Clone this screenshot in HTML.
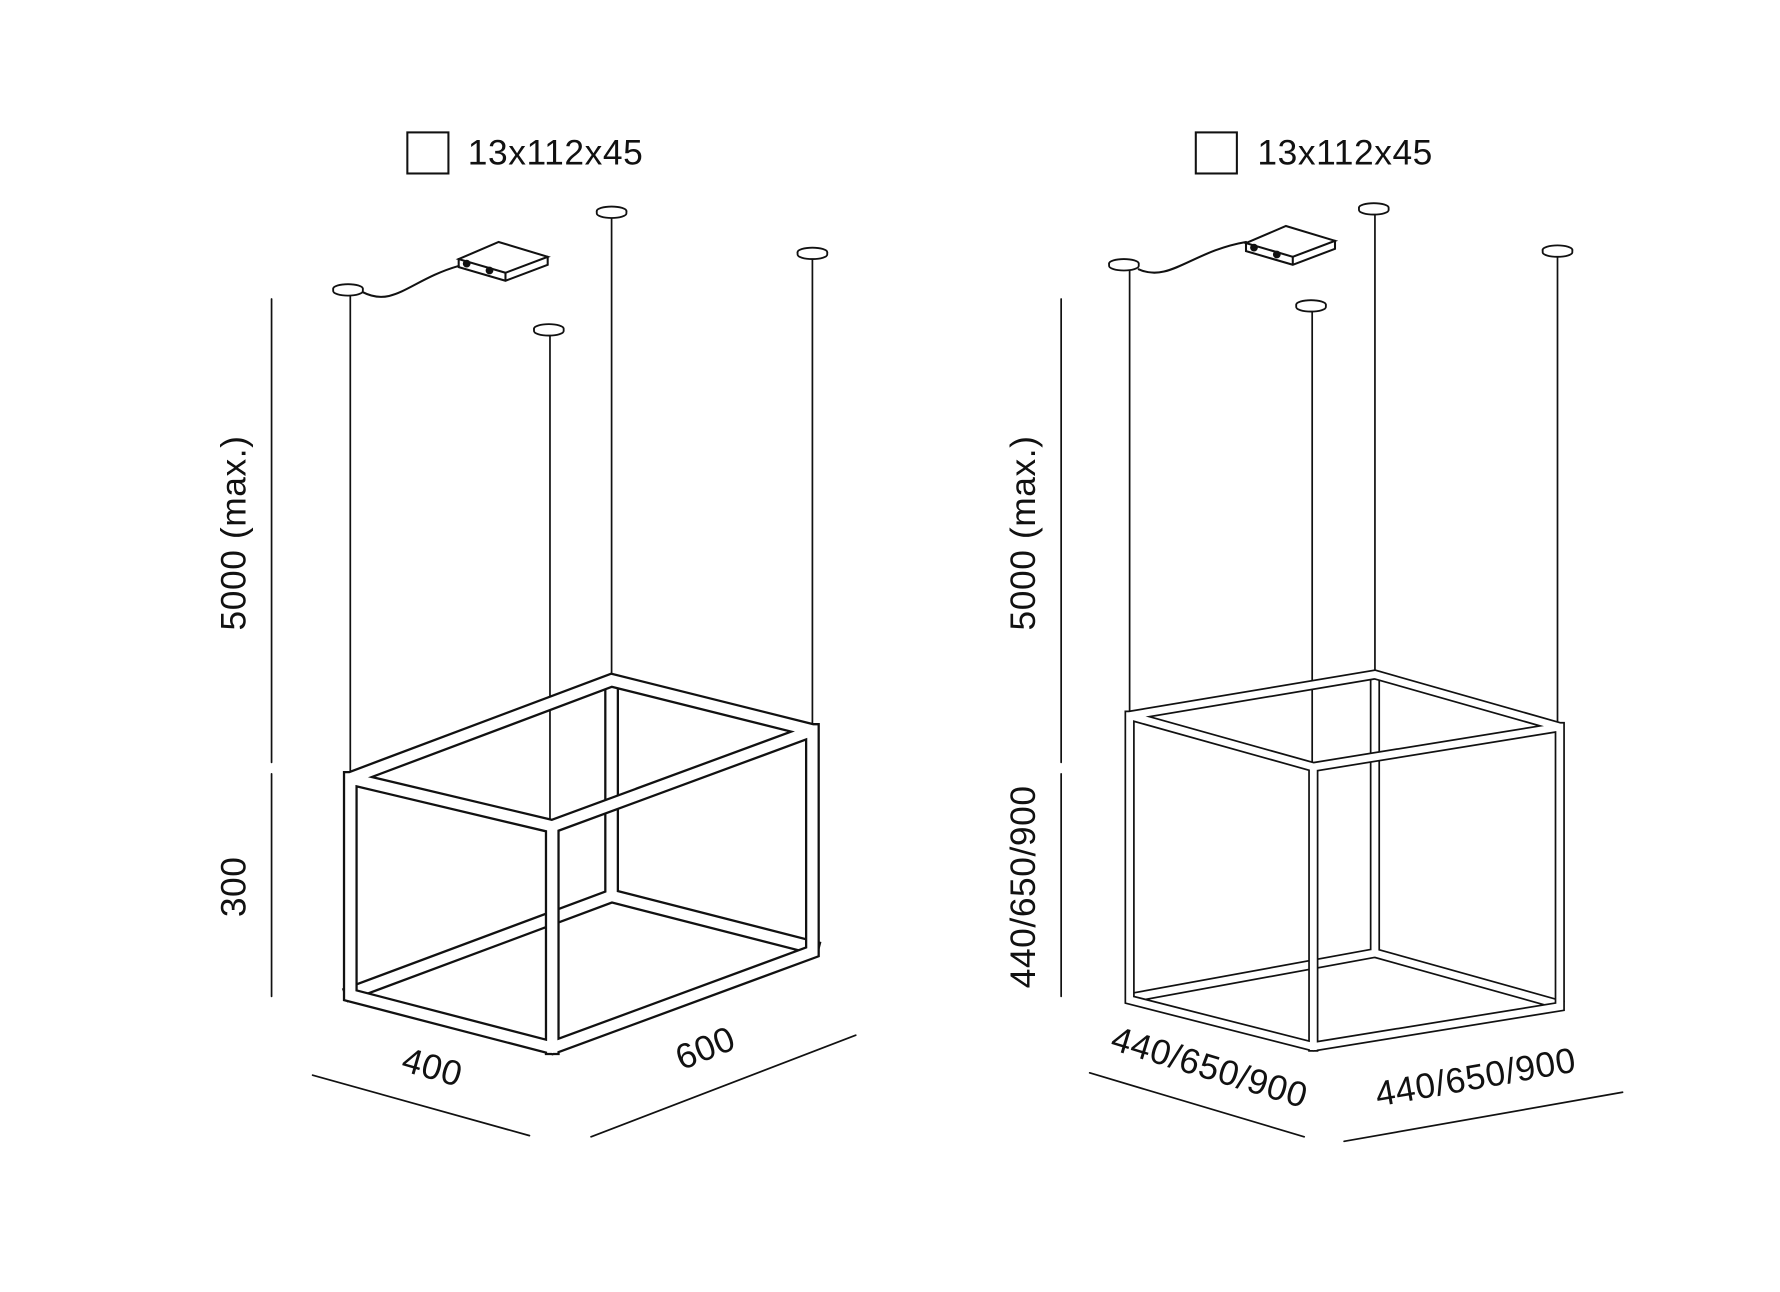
<!DOCTYPE html>
<html><head><meta charset="utf-8"><style>
html,body{margin:0;padding:0;background:#fff;}
svg{display:block;}
text{font-family:"Liberation Sans",sans-serif;fill:#111;letter-spacing:0.5px;}
</style></head><body>
<svg width="1780" height="1292" viewBox="0 0 1560 1132" preserveAspectRatio="none" xmlns="http://www.w3.org/2000/svg">
<g fill="none" stroke="#111" stroke-linecap="round">
<rect x="357" y="116" width="36" height="36" stroke-width="1.8"/>
<rect x="1048" y="116" width="36" height="36" stroke-width="1.8"/>

<g stroke-width="1.5">
<line x1="238" y1="262" x2="238" y2="668"/><line x1="238" y1="678" x2="238" y2="873"/>
<line x1="274" y1="942" x2="464" y2="995"/><line x1="518" y1="996" x2="750" y2="907"/>
<line x1="930" y1="262" x2="930" y2="668"/><line x1="930" y1="678" x2="930" y2="873"/>
<line x1="955" y1="940" x2="1143" y2="996"/><line x1="1178" y1="1000" x2="1422" y2="957"/>
</g>

<g stroke-width="1.5">
<line x1="307" y1="256" x2="307" y2="676"/>
<line x1="482" y1="292" x2="482" y2="718"/>
<line x1="536" y1="188" x2="536" y2="592"/>
<line x1="712" y1="224" x2="712" y2="634"/>
<line x1="990" y1="235" x2="990" y2="623"/>
<line x1="1150" y1="271" x2="1150" y2="668"/>
<line x1="1205" y1="185" x2="1205" y2="587"/>
<line x1="1365" y1="223" x2="1365" y2="633"/>
</g>
<g stroke-width="1.6" fill="#fff">
<ellipse cx="305" cy="253" rx="13" ry="4"/><path d="M292 253 v2 a13 4 0 0 0 26 0 v-2"/>
<ellipse cx="481" cy="288" rx="13" ry="4"/><path d="M468 288 v2 a13 4 0 0 0 26 0 v-2"/>
<ellipse cx="536" cy="185" rx="13" ry="4"/><path d="M523 185 v2 a13 4 0 0 0 26 0 v-2"/>
<ellipse cx="712" cy="221" rx="13" ry="4"/><path d="M699 221 v2 a13 4 0 0 0 26 0 v-2"/>
<ellipse cx="985" cy="231" rx="13" ry="4"/><path d="M972 231 v2 a13 4 0 0 0 26 0 v-2"/>
<ellipse cx="1149" cy="267" rx="13" ry="4"/><path d="M1136 267 v2 a13 4 0 0 0 26 0 v-2"/>
<ellipse cx="1204" cy="182" rx="13" ry="4"/><path d="M1191 182 v2 a13 4 0 0 0 26 0 v-2"/>
<ellipse cx="1365" cy="219" rx="13" ry="4"/><path d="M1352 219 v2 a13 4 0 0 0 26 0 v-2"/>
</g>
<g stroke-width="1.8">
<path d="M318 256 C345 270 360 245 402 233"/>
<path d="M437 212 L480 225 L443 239 L402 227 Z" fill="#fff"/>
<path d="M402 227 v7 l41 12 l37 -14 v-7 M443 239 v7"/>
<circle cx="409" cy="231" r="2.5" fill="#111"/><circle cx="429" cy="237" r="2.5" fill="#111"/>
<path d="M998 236 C1025 248 1045 220 1092 212"/>
<path d="M1127 198 L1170 211 L1133 225 L1092 213 Z" fill="#fff"/>
<path d="M1092 213 v7 l41 12 l37 -14 v-7 M1133 225 v7"/>
<circle cx="1099" cy="217" r="2.5" fill="#111"/><circle cx="1119" cy="223" r="2.5" fill="#111"/>
</g>

<g stroke-linecap="square" stroke-linejoin="miter" stroke-miterlimit="2">
<g stroke="#111" stroke-width="13"><path d="M536 600 V785 L308 870 M536 785 L712 830"/></g>
<g stroke="#fff" stroke-width="9"><path d="M536 600 V785 L308 870 M536 785 L712 830"/></g>
<g stroke="#111" stroke-width="13"><path d="M307 682 L484 724 L712 640 L536 596 Z M307 682 V872 L484 918 L712 834 V640 M484 724 V918"/></g>
<g stroke="#fff" stroke-width="9"><path d="M307 682 L484 724 L712 640 L536 596 Z M307 682 V872 L484 918 L712 834 V640 M484 724 V918"/></g>
</g>

<g stroke-linecap="square" stroke-linejoin="miter" stroke-miterlimit="2">
<g stroke="#111" stroke-width="9"><path d="M1205 592 V835 L992 874 M1205 835 L1366 880"/></g>
<g stroke="#fff" stroke-width="6"><path d="M1205 592 V835 L992 874 M1205 835 L1366 880"/></g>
<g stroke="#111" stroke-width="9"><path d="M990 627 L1151 672 L1367 637 L1205 591 Z M990 627 V876 L1151 917 L1367 882 V637 M1151 672 V917"/></g>
<g stroke="#fff" stroke-width="6"><path d="M990 627 L1151 672 L1367 637 L1205 591 Z M990 627 V876 L1151 917 L1367 882 V637 M1151 672 V917"/></g>
</g>
</g>

<text x="410" y="144" font-size="31">13x112x45</text>
<text x="1102" y="144" font-size="31">13x112x45</text>
<text transform="translate(215,467) rotate(-90)" font-size="31" text-anchor="middle">5000 (max.)</text>
<text transform="translate(215,777) rotate(-90)" font-size="31" text-anchor="middle">300</text>
<text transform="translate(907,467) rotate(-90)" font-size="31" text-anchor="middle">5000 (max.)</text>
<text transform="translate(907,777) rotate(-90)" font-size="31" text-anchor="middle">440/650/900</text>
<text transform="translate(376,945) rotate(16)" font-size="31" text-anchor="middle">400</text>
<text transform="translate(622,928) rotate(-22)" font-size="31" text-anchor="middle">600</text>
<text transform="translate(1057,945) rotate(17)" font-size="31" text-anchor="middle">440/650/900</text>
<text transform="translate(1295,954) rotate(-10)" font-size="31" text-anchor="middle">440/650/900</text>
</svg>
</body></html>
